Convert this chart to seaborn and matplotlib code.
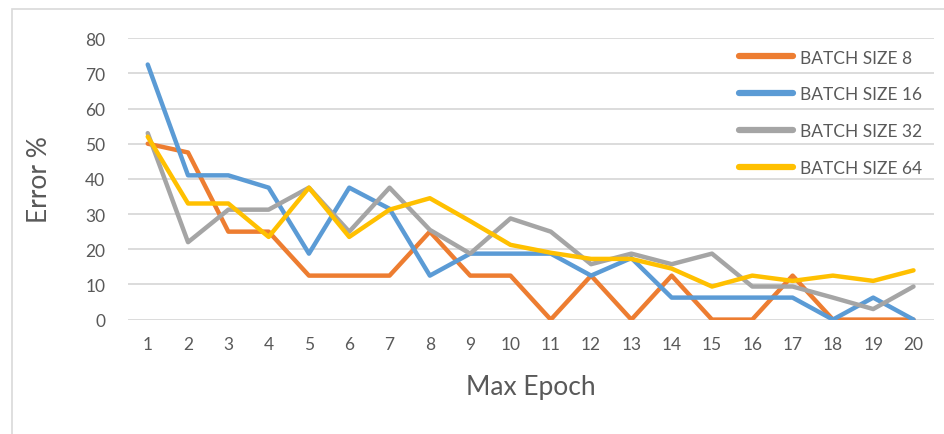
import matplotlib
matplotlib.use("Agg")
import matplotlib.pyplot as plt
import seaborn as sns
import pandas as pd
from matplotlib.patches import Rectangle

epochs = list(range(1, 21))
batch_8 = [50, 47.5, 25, 25, 12.5, 12.5, 12.5, 25, 12.5, 12.5,
           0, 12.5, 0, 12.5, 0, 0, 12.5, 0, 0, 0]
batch_16 = [72.5, 41, 41, 37.5, 18.75, 37.5, 31.5, 12.5, 18.75, 18.75,
            18.75, 12.5, 17.5, 6.25, 6.25, 6.25, 6.25, 0, 6.25, 0]
batch_32 = [53, 22, 31.25, 31.25, 37.5, 25, 37.5, 25.5, 18.75, 28.75,
            25, 15.75, 18.75, 15.75, 18.75, 9.4, 9.4, 6.25, 3, 9.4]
batch_64 = [52, 33, 33, 23.5, 37.5, 23.5, 31.25, 34.5, 28, 21.25,
            19, 17.25, 17.25, 14.5, 9.4, 12.5, 11, 12.5, 11, 14]
series_names = ["BATCH SIZE 8", "BATCH SIZE 16", "BATCH SIZE 32", "BATCH SIZE 64"]
colors = ["#ED7D31", "#5B9BD5", "#A5A5A5", "#FFC000"]

frames = []
for name, vals in zip(series_names, [batch_8, batch_16, batch_32, batch_64]):
    frames.append(pd.DataFrame({"Max Epoch": epochs, "Error": vals, "Series": name}))
df = pd.concat(frames, ignore_index=True)

sns.set_theme(style="white")
plt.rcParams["font.family"] = ["Lato", "DejaVu Sans"]

fig = plt.figure(figsize=(9.45, 4.35), dpi=100)
ax = fig.add_axes([0.135, 0.263, 0.853, 0.647])

sns.lineplot(data=df, x="Max Epoch", y="Error", hue="Series",
             palette=colors, linewidth=3.2, ax=ax, legend=True, zorder=3)

ax.set_xlim(0.5, 20.5)
ax.set_ylim(0, 80)
ax.set_xticks(epochs)
ax.set_yticks(range(0, 81, 10))
ax.yaxis.grid(True, color="#D9D9D9", linewidth=1.3, zorder=0)
ax.xaxis.grid(False)
for s in ax.spines.values():
    s.set_visible(False)
ax.tick_params(axis="both", length=0, labelsize=12.5, colors="#595959")
ax.tick_params(axis="x", pad=12)
ax.tick_params(axis="y", pad=16)
ax.set_xlabel("Max Epoch", fontsize=19, color="#595959", labelpad=16)
ax.set_ylabel("Error %", fontsize=19, color="#595959", labelpad=24)

leg = ax.legend(loc="upper right", bbox_to_anchor=(1.005, 1.015), frameon=False,
                fontsize=12.5, handlelength=3.1, handletextpad=0.4,
                labelspacing=1.2, labelcolor="#595959")
for line in leg.get_lines():
    line.set_linewidth(4.5)
    line.set_solid_capstyle("round")

fig.patches.append(Rectangle((12 / 945, -0.1), 1.2, (435 - 10) / 435 + 0.1,
                             transform=fig.transFigure, fill=False,
                             edgecolor="#D9D9D9", linewidth=1.2))

fig.savefig("out.png", dpi=100)
